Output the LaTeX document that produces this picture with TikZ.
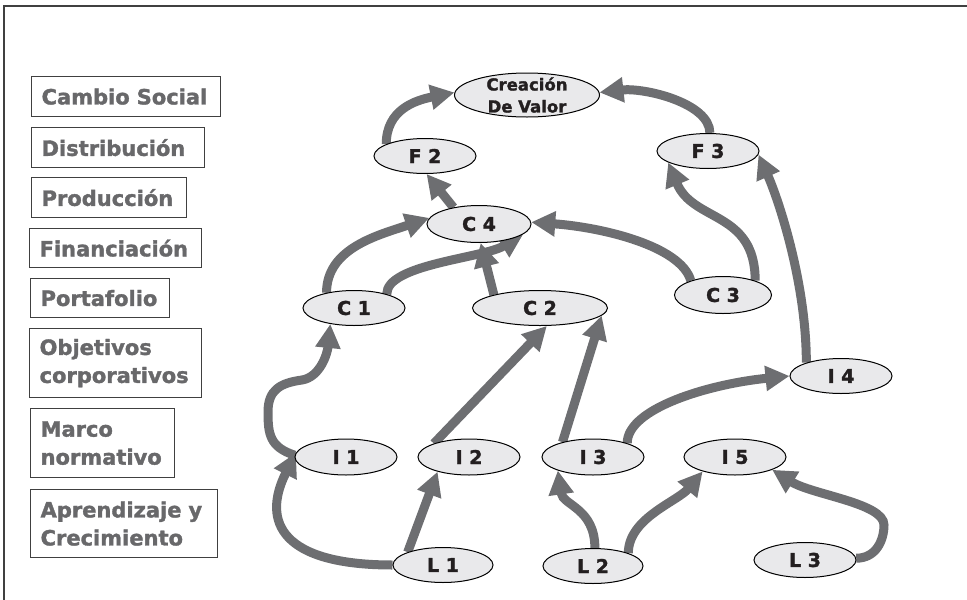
\documentclass[tikz,border=0pt]{standalone}
\usepackage{fontspec}
\setmainfont{DejaVu Sans}[BoldFeatures={FakeBold=1.6}]
\usetikzlibrary{shapes.geometric,arrows.meta,backgrounds}
\definecolor{arrgray}{RGB}{109,110,113}
\definecolor{nodefill}{RGB}{233,233,235}
\definecolor{nodetext}{RGB}{35,31,32}
\definecolor{lbltext}{RGB}{104,104,106}
\definecolor{framegray}{RGB}{64,64,64}
\begin{document}
\begin{tikzpicture}[x=1pt,y=-1pt,
  ell/.style={ellipse, draw=black, line width=1pt, fill=nodefill, inner sep=0pt,
    minimum width=102pt, minimum height=35pt, text=nodetext,
    font=\fontsize{19}{22}\selectfont\bfseries},
  lbl/.style={draw=framegray, line width=1.2pt, text=lbltext, anchor=north west,
    inner xsep=10pt, inner ysep=0pt, align=left,
    font=\fontsize{21}{28}\selectfont\bfseries},
  arr/.style={draw=arrgray, line width=9pt, -{Triangle[length=24pt,width=24pt]}}]
\useasboundingbox (0,0) rectangle (967,600);
% frame
\draw[framegray, line width=1.5pt] (4,600) -- (4,6) -- (967,6);
% left labels
\node[lbl, text width=169pt, minimum height=40pt] (lab1) at (31,76) {Cambio Social};
\node[lbl, text width=153pt, minimum height=40pt] (lab2) at (31,127) {Distribución};
\node[lbl, text width=135pt, minimum height=40pt] (lab3) at (31,177) {Producción};
\node[lbl, text width=152pt, minimum height=39pt] (lab4) at (29,228) {Financiación};
\node[lbl, text width=119pt, minimum height=39pt] (lab5) at (30,278) {Portafolio};
\node[lbl, text width=152pt, minimum height=69pt] (lab6) at (29,328) {Objetivos\\corporativos};
\node[lbl, text width=124pt, minimum height=69pt] (lab7) at (30,408) {Marco\\normativo};
\node[lbl, text width=167pt, minimum height=68pt] (lab8) at (30,489) {Aprendizaje y\\Crecimiento};
% ellipses
\node[ell, minimum width=145pt, minimum height=44pt, inner ysep=-4pt, align=center,
  font=\fontsize{16.5}{22}\selectfont\bfseries] (cv) at (527,95) {Creación\\De Valor};
\node[ell] (f2) at (425,156) {F 2};
\node[ell] (f3) at (708,151) {F 3};
\node[ell, minimum width=104pt, minimum height=37pt] (c4) at (479,224) {C 4};
\node[ell] (c1) at (354,308) {C 1};
\node[ell, minimum width=135pt] (c2) at (540,308) {C 2};
\node[ell, minimum width=97pt, minimum height=37pt] (c3) at (723,295) {C 3};
\node[ell] (i4) at (841,376) {I 4};
\node[ell, minimum height=36pt] (i1) at (346,457) {I 1};
\node[ell, minimum height=36pt] (i2) at (469,457) {I 2};
\node[ell, minimum height=36pt] (i3) at (593,457) {I 3};
\node[ell, minimum height=36pt] (i5) at (735,457) {I 5};
\node[ell, minimum width=100pt] (l1) at (443,565) {L 1};
\node[ell, minimum width=100pt] (l2) at (593,566) {L 2};
\node[ell] (l3) at (805,560) {L 3};
% connectors
\begin{scope}[on background layer]
\draw[arr] (f2.163) .. controls +(0,-34) and +(-40,8) .. (cv.178);
\draw[arr] (f3.84) .. controls +(0,-30) and +(45,-5) .. (cv.2);
\draw[arr] (c4.147) -- (f2.-85);
\draw[arr] (c1.151) .. controls +(0,-45) and +(-50,17) .. (c4.173);
\draw[arr] (c1.23) .. controls +(0,-30) and +(-40,24) .. (c4.-13);
\draw[arr] (c2.164) -- (c4.-85);
\draw[arr] (c3.156) .. controls +(-10,-35) and +(70,5) .. (c4.2);
\draw[arr] (c3.24) .. controls +(0,-70) and +(25,60) .. (f3.196);
\draw[arr] (i4.159) .. controls +(0,-80) and +(20,45) .. (f3.-4);
\draw[arr] (i3.22) .. controls +(0,-35) and +(-80,8) .. (i4.180);
\draw[arr] (i1.178) .. controls +(-25,-8) and +(0,22) .. (268,412)
  .. controls +(0,-22) and +(-22,3) .. (302,380)
  .. controls +(18,-3) and +(-3,30) .. (c1.214);
\draw[arr] (i2.159) -- (c2.-69);
\draw[arr] (i3.154) -- (c2.-7);
\draw[arr] (l1.180) .. controls +(-110,0) and +(-35,70) .. (i1.175);
\draw[arr] (l1.160) -- (i2.205);
\draw[arr] (l2.84) .. controls +(0,-40) and +(5,35) .. (i3.201);
\draw[arr] (l2.20) .. controls +(0,-35) and +(-25,30) .. (i5.204);
\draw[arr] (l3.2) .. controls +(20,0) and +(0,15) .. (884,525)
  .. controls +(0,-22) and +(40,25) .. (i5.-19);
\end{scope}
\end{tikzpicture}
\end{document}
